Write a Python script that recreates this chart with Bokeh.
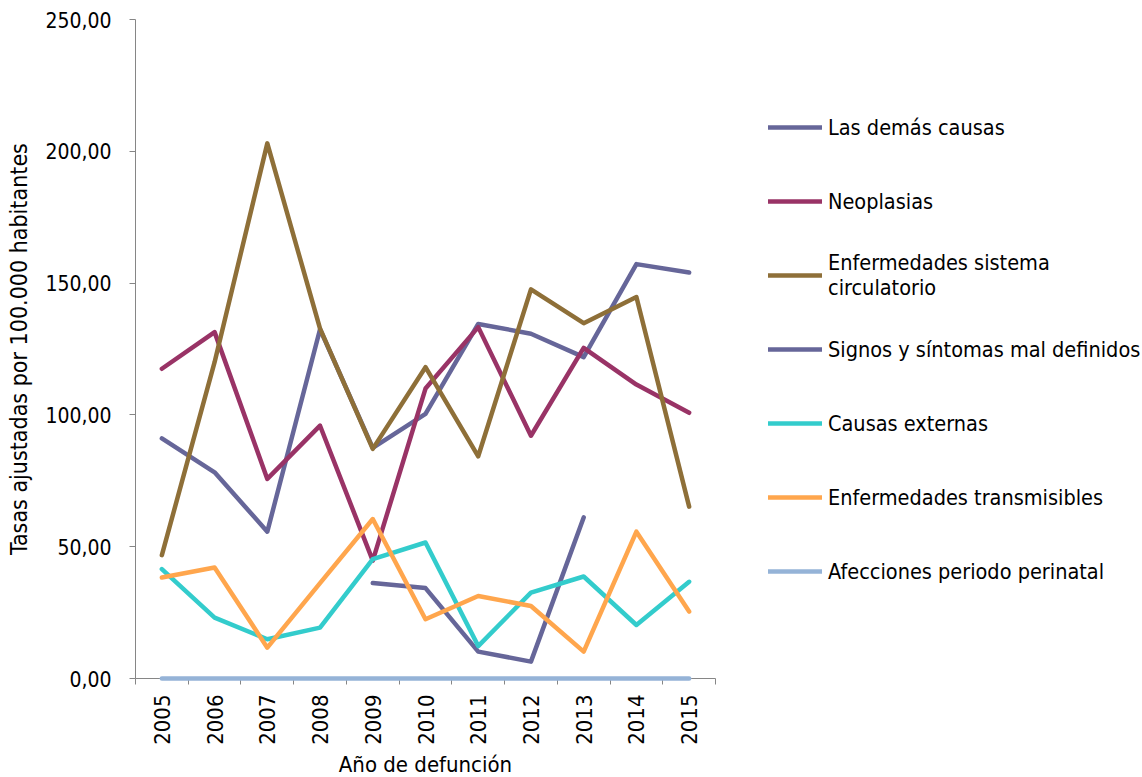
import math
from bokeh.plotting import figure
from bokeh.models import Legend, LegendItem, FixedTicker, Range1d
from bokeh.embed import file_html
from bokeh.resources import INLINE

years = [2005, 2006, 2007, 2008, 2009, 2010, 2011, 2012, 2013, 2014, 2015]
nan = float("nan")
las_demas = [91.1, 78.2, 55.7, 132.5, 87.5, 100.4, 134.5, 130.8, 121.9, 157.2, 154.0]
neoplasias = [117.5, 131.4, 75.7, 95.9, 44.7, 110.0, 133.3, 92.1, 125.4, 111.5, 100.8]
circulatorio = [46.8, 120.0, 203.0, 132.7, 87.1, 118.1, 84.3, 147.6, 134.8, 144.7, 65.2]
signos = [nan, nan, nan, nan, 36.2, 34.3, 10.2, 6.4, 61.1, nan, nan]
externas = [41.5, 23.1, 14.9, 19.3, 45.3, 51.6, 12.3, 32.6, 38.7, 20.3, 36.7]
transmisibles = [38.3, 42.1, 11.7, 36.2, 60.5, 22.5, 31.3, 27.5, 10.2, 55.7, 25.4]
perinatal = [0, 0, 0, 0, 0, 0, 0, 0, 0, 0, 0]

series_names = ["Las demás causas", "Neoplasias", "Enfermedades sistema\ncirculatorio",
                "Signos y síntomas mal definidos", "Causas externas",
                "Enfermedades transmisibles", "Afecciones periodo perinatal"]
series_values = [las_demas, neoplasias, circulatorio, signos, externas, transmisibles, perinatal]
colors = ["#666699", "#993366", "#8E6F38", "#666699", "#33CCCC", "#FFA64D", "#95B3D7"]

y_ticks = [0, 50, 100, 150, 200, 250]
y_tick_labels = ["0,00", "50,00", "100,00", "150,00", "200,00", "250,00"]

FONT = "DejaVu Sans Condensed"

p = figure(frame_width=580, frame_height=659, output_backend="svg", toolbar_location=None,
           x_range=Range1d(years[0] - 0.5, years[-1] + 0.5), y_range=Range1d(0, 250),
           min_border_left=135, min_border_top=19, min_border_right=0, min_border_bottom=90)
p.outline_line_color = None
p.grid.visible = False
p.background_fill_color = "white"
p.border_fill_color = "white"

items = []
for name, vals, c in zip(series_names, series_values, colors):
    r = p.line(years, vals, line_color=c, line_width=4.5, line_cap="round", line_join="round",
               level="overlay")
    items.append(LegendItem(label=name, renderers=[r]))

legend = Legend(items=items, location=(53, 80), margin=0, padding=0, spacing=20,
                glyph_width=54, glyph_height=20, label_height=54, label_standoff=6,
                label_text_font=FONT, label_text_font_size="21.5px", label_text_color="#000000",
                border_line_color=None, background_fill_alpha=0)
p.add_layout(legend, "right")

axis_color = "#868686"
xa = p.xaxis[0]
xa.ticker = FixedTicker(ticks=years, minor_ticks=[y - 0.5 for y in years] + [years[-1] + 0.5])
xa.major_tick_out = 0
xa.major_tick_in = 0
xa.minor_tick_out = 6
xa.minor_tick_in = 0
xa.minor_tick_line_color = axis_color
xa.axis_line_color = axis_color
xa.major_label_orientation = math.pi / 2
xa.major_label_text_font = FONT
xa.major_label_text_font_size = "22px"
xa.major_label_text_color = "#000000"
xa.major_label_standoff = 10
xa.axis_label = "Año de defunción"
xa.axis_label_text_font = FONT
xa.axis_label_text_font_size = "22px"
xa.axis_label_text_font_style = "normal"
xa.axis_label_text_color = "#000000"
xa.axis_label_standoff = 4

ya = p.yaxis[0]
ya.ticker = FixedTicker(ticks=y_ticks, minor_ticks=[])
ya.major_label_overrides = {t: l for t, l in zip(y_ticks, y_tick_labels)}
ya.major_tick_out = 6
ya.major_tick_in = 0
ya.major_tick_line_color = axis_color
ya.axis_line_color = axis_color
ya.major_label_text_font = FONT
ya.major_label_text_font_size = "21px"
ya.major_label_text_color = "#000000"
ya.major_label_standoff = 18
ya.axis_label = "Tasas ajustadas por 100.000 habitantes"
ya.axis_label_text_font = FONT
ya.axis_label_text_font_size = "23px"
ya.axis_label_text_font_style = "normal"
ya.axis_label_text_color = "#000000"
ya.axis_label_standoff = 10

open("out.html", "w").write(file_html(p, INLINE))
